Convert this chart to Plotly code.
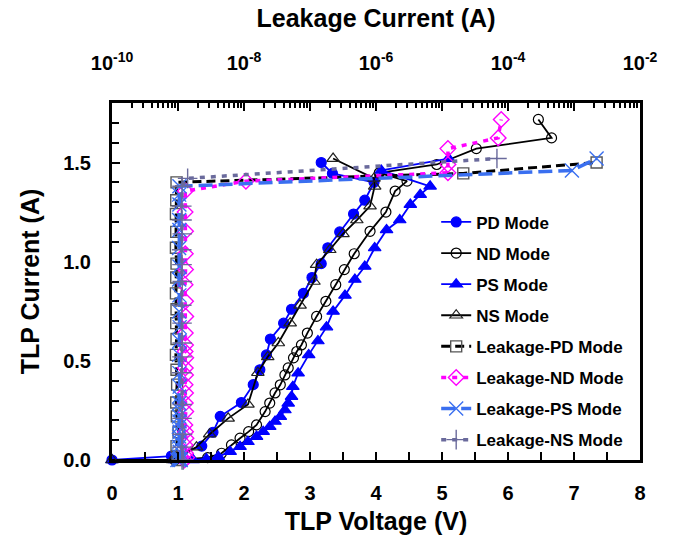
import plotly.graph_objects as go

# ---- TLP I-V curves (voltage in V, current in A) ----
pd_v = [0.00, 0.90, 1.36, 1.53, 1.64, 1.96, 2.14, 2.24, 2.34, 2.40, 2.60, 2.72, 2.90,
        3.03, 3.17, 3.27, 3.45, 3.66, 3.83, 3.97, 3.34, 3.17]
pd_i = [0.00, 0.02, 0.07, 0.14, 0.22, 0.29, 0.38, 0.455, 0.53, 0.61, 0.69, 0.76, 0.84,
        0.92, 0.99, 1.07, 1.15, 1.24, 1.31, 1.40, 1.445, 1.50]

nd_v = [0.95, 1.45, 1.66, 1.81, 1.94, 2.07, 2.19, 2.32, 2.39, 2.47, 2.55, 2.62, 2.67,
        2.75, 2.80, 2.87, 2.96, 3.10, 3.24, 3.39, 3.52, 3.67, 3.91, 4.15, 4.29, 4.47,
        4.05, 4.92, 5.52, 6.66, 6.46]
nd_i = [0.00, 0.012, 0.034, 0.076, 0.11, 0.143, 0.177, 0.244, 0.287, 0.338, 0.379, 0.429,
        0.464, 0.515, 0.547, 0.58, 0.64, 0.724, 0.80, 0.884, 0.96, 1.04, 1.153, 1.25,
        1.356, 1.406, 1.448, 1.49, 1.57, 1.624, 1.717]

ps_v = [0.00, 0.95, 1.23, 1.43, 1.61, 1.79, 1.94, 2.06, 2.19, 2.29, 2.39, 2.47, 2.55,
        2.62, 2.67, 2.72, 2.74, 2.82, 2.98, 3.12, 3.25, 3.35, 3.53, 3.68, 3.83, 3.98,
        4.16, 4.36, 4.52, 4.67, 4.82, 4.08, 5.10]
ps_i = [0.00, 0.00, 0.00, 0.005, 0.017, 0.042, 0.067, 0.092, 0.118, 0.143, 0.168, 0.194,
        0.219, 0.252, 0.286, 0.32, 0.37, 0.438, 0.53, 0.60, 0.67, 0.749, 0.83, 0.91,
        0.976, 1.069, 1.16, 1.21, 1.288, 1.338, 1.38, 1.46, 1.52]

ns_v = [0.00, 0.92, 1.28, 1.48, 1.76, 2.06, 2.21, 2.36, 2.52, 2.70, 2.85, 3.06, 3.10,
        3.30, 3.50, 3.71, 3.91, 3.98, 3.97, 3.35]
ns_i = [0.00, 0.00, 0.065, 0.13, 0.21, 0.28, 0.44, 0.52, 0.59, 0.69, 0.78, 0.90, 0.985,
        1.06, 1.14, 1.21, 1.28, 1.38, 1.42, 1.52]

# ---- leakage current (A) measured after each TLP pulse ----
leak_pd = [1.00e-9, 0.98e-9, 0.95e-9, 1.02e-9, 0.96e-9, 0.94e-9, 0.97e-9, 0.95e-9,
           0.93e-9, 0.95e-9, 0.94e-9, 0.95e-9, 0.93e-9, 0.94e-9, 0.95e-9, 0.93e-9,
           0.94e-9, 0.93e-9, 0.94e-9, 0.95e-9, 2.1e-5, 2.2e-3]
leak_nd = [1.25e-9, 1.35e-9, 1.30e-9, 1.28e-9, 1.32e-9, 1.30e-9, 1.27e-9, 1.31e-9,
           1.29e-9, 1.30e-9, 1.28e-9, 1.30e-9, 1.29e-9, 1.31e-9, 1.28e-9, 1.30e-9,
           1.29e-9, 1.31e-9, 1.30e-9, 1.28e-9, 1.30e-9, 1.29e-9, 1.30e-9, 1.28e-9,
           1.29e-9, 1.07e-8, 1.23e-5, 1.23e-5, 1.23e-5, 7.1e-5, 7.9e-5]
leak_ps = [1.05e-9, 1.10e-9, 0.98e-9, 1.08e-9, 1.04e-9, 1.06e-9, 1.03e-9, 1.05e-9,
           1.04e-9, 1.06e-9, 1.03e-9, 1.05e-9, 1.04e-9, 1.06e-9, 1.05e-9, 1.04e-9,
           1.06e-9, 1.05e-9, 1.04e-9, 1.05e-9, 1.06e-9, 1.04e-9, 1.05e-9, 1.04e-9,
           1.05e-9, 1.04e-9, 1.05e-9, 1.04e-9, 1.05e-9, 1.04e-9, 1.05e-9, 9.3e-4, 2.2e-3]
leak_ns = [1.15e-9, 1.20e-9, 1.14e-9, 1.17e-9, 1.15e-9, 1.16e-9, 1.14e-9, 1.15e-9,
           1.16e-9, 1.15e-9, 1.14e-9, 1.16e-9, 1.15e-9, 1.14e-9, 1.16e-9, 1.15e-9,
           1.14e-9, 1.15e-9, 1.40e-9, 6.8e-5]

# ---- axis ticks ----
x_range = [0, 8]
y_range = [0, 1.8]
leak_decades = list(range(-10, -1))
leak_labels = ["10<sup>%d</sup>" % e if e % 2 == 0 else "" for e in leak_decades]

FONT = "Liberation Sans, Arial, Helvetica, sans-serif"
BLUE = "#0000ff"
LBLUE = "#3a6ff0"
MAGENTA = "#ff00ff"
SLATE = "#6a6a9c"

fig = go.Figure()

iv_series = [
    ("PD Mode", pd_v, pd_i, BLUE, "circle", BLUE, 10),
    ("ND Mode", nd_v, nd_i, "black", "circle-open", "black", 10),
    ("PS Mode", ps_v, ps_i, BLUE, "triangle-up", BLUE, 11),
    ("NS Mode", ns_v, ns_i, "black", "triangle-up-open", "#222222", 11),
]
for name, xv, yv, lc, sym, mc, ms in iv_series:
    fig.add_trace(go.Scatter(
        x=xv, y=yv, name=name, mode="lines+markers", legendgroup=name,
        line=dict(color=lc, width=1.8),
        marker=dict(symbol=sym, size=ms, color=mc, line=dict(color=mc, width=1.2)),
        cliponaxis=False, xaxis="x", yaxis="y"))

leak_series = [
    ("Leakage-PD Mode", leak_pd, pd_i, "black", "9px,5px", 3, "square-open", "#555555", 11),
    ("Leakage-ND Mode", leak_nd, nd_i, MAGENTA, "5px,6px", 3.5, "diamond-open", MAGENTA, 12),
    ("Leakage-PS Mode", leak_ps, ps_i, LBLUE, "14px,6px", 3.5, "x-thin-open", LBLUE, 14),
    ("Leakage-NS Mode", leak_ns, ns_i, SLATE, "5px,6px", 3.5, "cross-thin-open", SLATE, 14),
]
for name, xv, yv, lc, dash, lw, sym, mc, ms in leak_series:
    fig.add_trace(go.Scatter(
        x=xv, y=yv, name=name, mode="lines+markers", legendgroup=name,
        line=dict(color=lc, width=lw, dash=dash),
        marker=dict(symbol=sym, size=ms, color=mc, line=dict(color=mc, width=1.4)),
        cliponaxis=False, xaxis="x2", yaxis="y"))

tick_font = dict(family=FONT, size=20, color="black", weight="bold")
title_font = dict(family=FONT, size=25, color="black", weight="bold")

fig.update_layout(
    width=677, height=542,
    margin=dict(l=112, r=37, t=103, b=82),
    paper_bgcolor="white", plot_bgcolor="white",
    template="none",
    showlegend=True,
    legend=dict(x=0.614, y=0.716, xanchor="left", yanchor="top",
                bgcolor="rgba(0,0,0,0)", borderwidth=0, tracegroupgap=6,
                font=dict(family=FONT, size=17, color="black", weight="bold")),
    xaxis=dict(
        range=x_range, tick0=0, dtick=1, ticks="inside", ticklen=8, tickwidth=2,
        tickcolor="black", showline=True, linewidth=3, linecolor="black",
        showgrid=False, zeroline=False, tickfont=tick_font, ticklabelstandoff=13,
        minor=dict(dtick=0.5, ticks="inside", ticklen=8, tickwidth=2, tickcolor="black",
                   showgrid=False),
        title=dict(text="TLP Voltage (V)", font=title_font, standoff=10),
        automargin=False),
    xaxis2=dict(
        type="log", range=[-10, -2], overlaying="x", side="top",
        tickmode="array", tickvals=[10.0 ** e for e in leak_decades], ticktext=leak_labels,
        ticks="inside", ticklen=8, tickwidth=2, tickcolor="black",
        showline=True, linewidth=3, linecolor="black", showgrid=False, zeroline=False,
        tickfont=tick_font, ticklabelstandoff=22,
        minor=dict(tickvals=[m * 10.0 ** e for e in leak_decades[:-1] for m in range(2, 10)],
                   ticks="inside", ticklen=5, tickwidth=2, tickcolor="black", showgrid=False),
        title=dict(text="Leakage Current (A)", font=title_font, standoff=14),
        automargin=False),
    yaxis=dict(
        range=y_range, tick0=0, dtick=0.5, tickformat=".1f", ticks="inside", ticklen=8,
        tickwidth=2, tickcolor="black", showline=True, linewidth=3, linecolor="black",
        mirror=True, showgrid=False, zeroline=False, tickfont=tick_font,
        ticklabelstandoff=14,
        minor=dict(dtick=0.1, ticks="inside", ticklen=7, tickwidth=2, tickcolor="black",
                   showgrid=False),
        title=dict(text="TLP Current (A)", font=title_font, standoff=17),
        automargin=False),
)

fig.write_html("out.html")
